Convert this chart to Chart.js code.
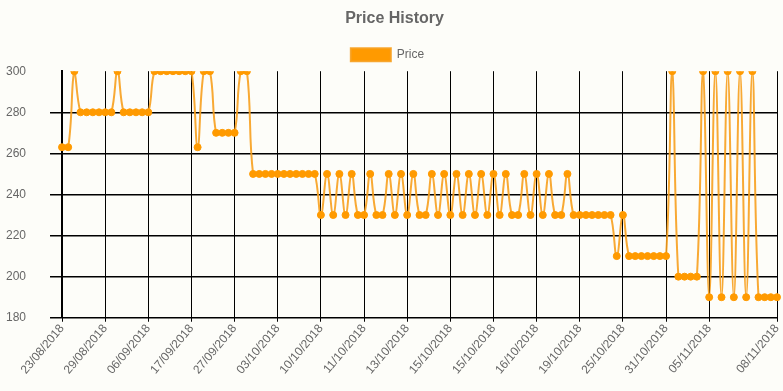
<!DOCTYPE html>
<html>
<head>
<meta charset="utf-8">
<script src="https://cdn.jsdelivr.net/npm/chart.js@4/dist/chart.umd.min.js"></script>
<style>
  html, body { margin: 0; padding: 0; background: #fdfdf9; }
  #wrap { width: 783px; height: 391px; }
</style>
</head>
<body>
<div id="wrap"><canvas id="priceChart"></canvas></div>
<script>
const dates = [
  "23/08/2018", "24/08/2018", "24/08/2018", "25/08/2018", "26/08/2018", "27/08/2018", "28/08/2018",
  "29/08/2018", "30/08/2018", "31/08/2018", "01/09/2018", "02/09/2018", "03/09/2018", "05/09/2018",
  "06/09/2018", "07/09/2018", "09/09/2018", "11/09/2018", "13/09/2018", "14/09/2018", "16/09/2018",
  "17/09/2018", "18/09/2018", "19/09/2018", "21/09/2018", "23/09/2018", "25/09/2018", "26/09/2018",
  "27/09/2018", "28/09/2018", "29/09/2018", "30/09/2018", "01/10/2018", "02/10/2018", "02/10/2018",
  "03/10/2018", "04/10/2018", "05/10/2018", "06/10/2018", "07/10/2018", "08/10/2018", "09/10/2018",
  "10/10/2018", "10/10/2018", "10/10/2018", "10/10/2018", "11/10/2018", "11/10/2018", "11/10/2018",
  "11/10/2018", "11/10/2018", "12/10/2018", "12/10/2018", "12/10/2018", "12/10/2018", "13/10/2018",
  "13/10/2018", "13/10/2018", "14/10/2018", "14/10/2018", "14/10/2018", "14/10/2018", "14/10/2018",
  "15/10/2018", "15/10/2018", "15/10/2018", "15/10/2018", "15/10/2018", "15/10/2018", "15/10/2018",
  "15/10/2018", "15/10/2018", "16/10/2018", "16/10/2018", "16/10/2018", "16/10/2018", "16/10/2018",
  "16/10/2018", "16/10/2018", "17/10/2018", "17/10/2018", "18/10/2018", "18/10/2018", "18/10/2018",
  "19/10/2018", "20/10/2018", "21/10/2018", "22/10/2018", "23/10/2018", "24/10/2018", "24/10/2018",
  "25/10/2018", "26/10/2018", "27/10/2018", "28/10/2018", "29/10/2018", "30/10/2018", "30/10/2018",
  "31/10/2018", "01/11/2018", "02/11/2018", "02/11/2018", "03/11/2018", "04/11/2018", "04/11/2018",
  "05/11/2018", "05/11/2018", "05/11/2018", "06/11/2018", "06/11/2018", "07/11/2018", "07/11/2018",
  "07/11/2018", "08/11/2018", "08/11/2018", "08/11/2018", "08/11/2018"
];

const prices = [
  263, 263, 300, 280, 280, 280, 280,
  280, 280, 300, 280, 280, 280, 280,
  280, 300, 300, 300, 300, 300, 300,
  300, 263, 300, 300, 270, 270, 270,
  270, 300, 300, 250, 250, 250, 250,
  250, 250, 250, 250, 250, 250, 250,
  230, 250, 230, 250, 230, 250, 230,
  230, 250, 230, 230, 250, 230, 250,
  230, 250, 230, 230, 250, 230, 250,
  230, 250, 230, 250, 230, 250, 230,
  250, 230, 250, 230, 230, 250, 230,
  250, 230, 250, 230, 230, 250, 230,
  230, 230, 230, 230, 230, 230, 210,
  230, 210, 210, 210, 210, 210, 210,
  210, 300, 200, 200, 200, 200, 300,
  190, 300, 190, 300, 190, 300, 190,
  300, 190, 190, 190, 190
];

const yTicks = { min: 180, max: 300, step: 20 };
const skipEvery = 7;

const textFont = { family: "'Liberation Sans', Arial, sans-serif", size: 12 };

// old-style autoskip: every 7th label, plus the last one
function showLabel(index) {
  const n = dates.length;
  return (index % skipEvery === 0 && index + skipEvery < n) || index === n - 1;
}

// the legend sits a few px left of centre in the original
const legendNudge = {
  id: "legendNudge",
  afterLayout(chart) {
    chart.legend.left -= 7;
    chart.legend.right -= 7;
  }
};

const ctx = document.getElementById("priceChart").getContext("2d");

new Chart(ctx, {
  type: "line",
  data: {
    labels: dates,
    datasets: [{
      label: "Price",
      data: prices,
      borderColor: "rgba(247, 160, 30, 0.9)",
      backgroundColor: "#ff9a00",
      borderWidth: 2,
      tension: 0.4,
      fill: false,
      pointRadius: 3.5,
      pointBorderWidth: 1,
      pointBackgroundColor: "#ff9a00",
      pointBorderColor: "#ff9a00"
    }]
  },
  options: {
    responsive: true,
    maintainAspectRatio: false,
    animation: false,
    layout: { padding: { left: 6, right: 0, top: 0, bottom: 14 } },
    plugins: {
      title: {
        display: true,
        text: "Price History",
        color: "#666",
        font: { family: textFont.family, size: 16, weight: "bold" },
        padding: { top: 9, bottom: 10 }
      },
      legend: {
        labels: {
          color: "#666",
          font: textFont,
          boxWidth: 40,
          boxHeight: 13
        }
      },
      tooltip: { enabled: false }
    },
    scales: {
      x: {
        grid: { color: "#000", lineWidth: 1, tickLength: 4 },
        border: { color: "#000", width: 1 },
        ticks: {
          color: "#666",
          font: textFont,
          autoSkip: false,
          minRotation: 50,
          maxRotation: 50,
          padding: 0,
          callback: function (value, index) {
            return showLabel(index) ? dates[index] : null;
          }
        },
        afterFit: function (scale) {
          scale.paddingRight = 6;
        }
      },
      y: {
        min: yTicks.min,
        max: yTicks.max,
        grid: {
          color: function (c) {
            return c.tick && c.tick.value === yTicks.max ? "rgba(0,0,0,0)" : "#000";
          },
          lineWidth: 1.5,
          tickLength: 12
        },
        border: { color: "#000", width: 2 },
        ticks: {
          stepSize: yTicks.step,
          color: "#666",
          font: textFont,
          padding: 12,
          crossAlign: "far"
        }
      }
    }
  },
  plugins: [legendNudge]
});
</script>
</body>
</html>
